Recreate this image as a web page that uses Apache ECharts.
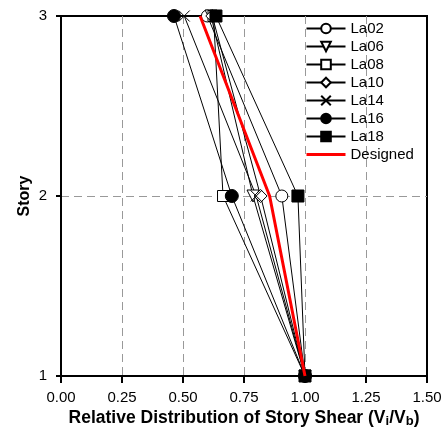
<!DOCTYPE html>
<html>
<head>
<meta charset="utf-8">
<script src="https://cdn.jsdelivr.net/npm/echarts@6/dist/echarts.min.js"></script>
<style>
  html, body { margin: 0; padding: 0; background: #fff; }
  #chart { width: 445px; height: 429px; }
</style>
</head>
<body>
<div id="chart"></div>
<script>
// story levels, bottom to top
const stories = [1, 2, 3]
// relative story shear Vi/Vb at stories 1, 2, 3
const la02 = [1.0, 0.905, 0.60]
const la06 = [1.0, 0.787, 0.615]
const la08 = [1.0, 0.664, 0.625]
const la10 = [1.0, 0.818, 0.62]
const la14 = [1.0, 0.80, 0.505]
const la16 = [1.0, 0.70, 0.463]
const la18 = [1.0, 0.971, 0.635]
const designed = [1.0, 0.855, 0.57]
const legendNames = ['La02', 'La06', 'La08', 'La10', 'La14', 'La16', 'La18', 'Designed']

const font = 'Liberation Sans, Arial, sans-serif'
const triDown = 'path://M0,0 L10,0 L5,9 Z'
const cross = 'path://M0,0 L10,10 M10,0 L0,10'

const pts = (vals) => vals.map((v, i) => [v, stories[i]])

const mk = (name, vals, symbol, filled, size) => ({
  name,
  type: 'line',
  data: pts(vals),
  symbol,
  symbolSize: size,
  showAllSymbol: true,
  lineStyle: { color: '#000', width: 1 },
  itemStyle: {
    color: filled ? '#000' : '#fff',
    borderColor: '#000',
    borderWidth: 1
  },
  z: 3
})

const chart = echarts.init(document.getElementById('chart'))
chart.setOption({
  animation: false,
  textStyle: { fontFamily: font },
  grid: {
    left: 61, right: 18, top: 16, bottom: 53,
    outerBoundsMode: 'none',
    containLabel: false,
    show: true, borderColor: '#000', borderWidth: 2
  },
  legend: {
    orient: 'vertical',
    left: 300,
    top: 16,
    itemWidth: 39,
    itemHeight: 12,
    itemGap: 3,
    textStyle: { fontSize: 15, color: '#000', fontFamily: font, lineHeight: 15 },
    data: legendNames.map(n => n === 'Designed'
      ? { name: n, itemStyle: { opacity: 0 }, lineStyle: { width: 3, color: '#ff0000' } }
      : n)
  },
  xAxis: {
    type: 'value',
    min: 0, max: 1.5, interval: 0.25,
    name: '{b|Relative Distribution of Story Shear (V}{s|i}{b|/V}{s|b}{b|)}',
    nameLocation: 'middle',
    nameGap: 32,
    nameMoveOverlap: false,
    nameTextStyle: {
      rich: {
        b: { fontSize: 17.5, fontWeight: 'bold', color: '#000', fontFamily: font, lineHeight: 20, verticalAlign: 'middle' },
        s: { fontSize: 13, fontWeight: 'bold', color: '#000', fontFamily: font, lineHeight: 20, padding: [11, 0, 0, 0], verticalAlign: 'bottom' }
      }
    },
    axisLine: { lineStyle: { color: '#000', width: 2 } },
    axisTick: { show: true, inside: false, length: 7, lineStyle: { color: '#000', width: 2 } },
    axisLabel: {
      color: '#000', fontSize: 15, margin: 14,
      formatter: (v) => v.toFixed(2)
    },
    splitLine: {
      show: true, showMinLine: false, showMaxLine: false,
      lineStyle: { color: '#999', type: [8, 5], width: 1 }
    }
  },
  yAxis: {
    type: 'value',
    min: 1, max: 3, interval: 1,
    name: 'Story',
    nameLocation: 'middle',
    nameGap: 28,
    nameMoveOverlap: false,
    nameTextStyle: { fontSize: 16, fontWeight: 'bold', color: '#000', fontFamily: font },
    axisLine: { show: true, lineStyle: { color: '#000', width: 2 } },
    axisTick: { show: true, length: 5, lineStyle: { color: '#000', width: 2 } },
    axisLabel: { color: '#000', fontSize: 15, margin: 14 },
    splitLine: {
      show: true, showMinLine: false, showMaxLine: false,
      lineStyle: { color: '#999', type: [8, 5], width: 1 }
    }
  },
  series: [
    mk('La02', la02, 'circle', false, 12),
    mk('La06', la06, triDown, false, 12),
    mk('La08', la08, 'rect', false, 11),
    mk('La10', la10, 'diamond', false, 13),
    mk('La14', la14, cross, false, 11),
    mk('La16', la16, 'circle', true, 13),
    mk('La18', la18, 'rect', true, 12),
    {
      name: 'Designed',
      type: 'line',
      data: pts(designed),
      symbol: 'none',
      lineStyle: { color: '#ff0000', width: 3 },
      itemStyle: { color: '#ff0000' },
      z: 4
    }
  ]
})
</script>
</body>
</html>
